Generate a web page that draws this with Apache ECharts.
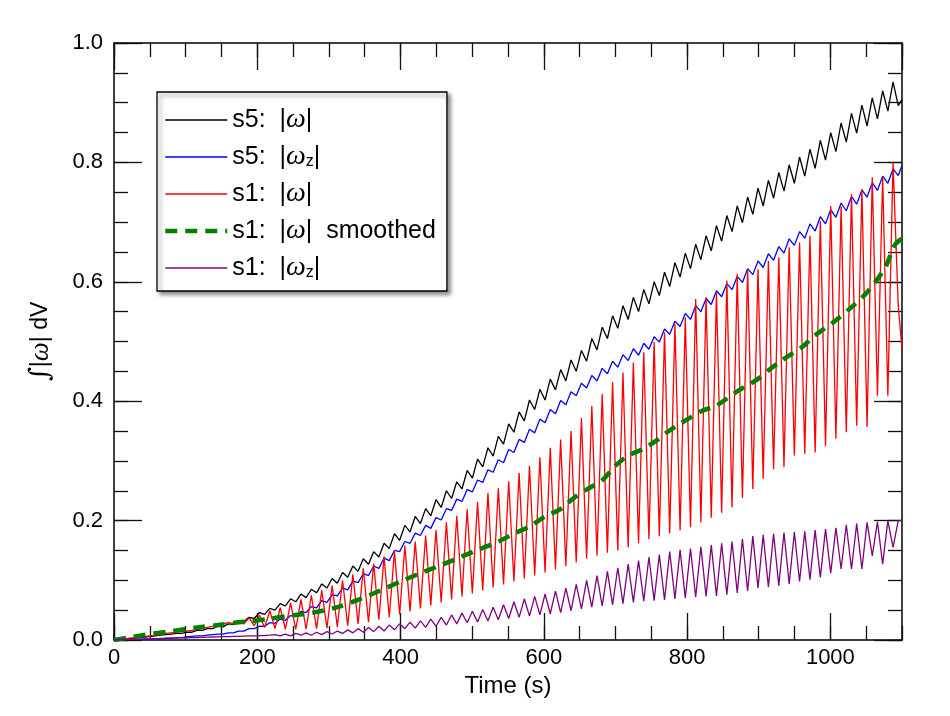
<!DOCTYPE html>
<html lang="en">
<head>
  <meta charset="UTF-8">
  <title>vorticity integral</title>
  <style>
    html, body { margin: 0; padding: 0; background: #fff; }
    #main { width: 950px; height: 716px; }
  </style>
</head>
<body>
<div id="main"></div>
<script src="https://cdn.jsdelivr.net/npm/echarts@6/dist/echarts.min.js"></script>
<script>
  // sample times of the wave crests and dips (s)
  const tPeak = [
    0, 14.5, 29, 43.5, 58, 72.5, 87, 101.5, 116, 130.5,
    145, 159.5, 174, 188.5, 203, 217.5, 232, 246.5, 261, 275.5,
    290, 304.5, 319, 333.5, 348, 362.5, 377, 391.5, 406, 420.5,
    435, 449.5, 464, 478.5, 493, 507.5, 522, 536.5, 551, 565.5,
    580, 594.5, 609, 623.5, 638, 652.5, 667, 681.5, 696, 710.5,
    725, 739.5, 754, 768.5, 783, 797.5, 812, 826.5, 841, 855.5,
    870, 884.5, 899, 913.5, 928, 942.5, 957, 971.5, 986, 1000.5,
    1015, 1029.5, 1044, 1058.5, 1073, 1087.5];
  const tTrough = [
    7.25, 21.75, 36.25, 50.75, 65.25, 79.75, 94.25, 108.75, 123.25, 137.75,
    152.25, 166.75, 181.25, 195.75, 210.25, 224.75, 239.25, 253.75, 268.25, 282.75,
    297.25, 311.75, 326.25, 340.75, 355.25, 369.75, 384.25, 398.75, 413.25, 427.75,
    442.25, 456.75, 471.25, 485.75, 500.25, 514.75, 529.25, 543.75, 558.25, 572.75,
    587.25, 601.75, 616.25, 630.75, 645.25, 659.75, 674.25, 688.75, 703.25, 717.75,
    732.25, 746.75, 761.25, 775.75, 790.25, 804.75, 819.25, 833.75, 848.25, 862.75,
    877.25, 891.75, 906.25, 920.75, 935.25, 949.75, 964.25, 978.75, 993.25, 1007.75,
    1022.25, 1036.75, 1051.25, 1065.75, 1080.25, 1094.75];
  const tEnd = 1100;

  // s5: |w|
  const s5wPeak = [
    0, 0.001, 0.003, 0.005, 0.007, 0.009, 0.011, 0.013, 0.016, 0.019,
    0.023, 0.027, 0.032, 0.038, 0.046, 0.053, 0.061, 0.069, 0.077, 0.085,
    0.094, 0.103, 0.113, 0.124, 0.136, 0.148, 0.162, 0.178, 0.192, 0.207,
    0.220, 0.235, 0.250, 0.265, 0.284, 0.303, 0.322, 0.341, 0.362, 0.382,
    0.402, 0.420, 0.437, 0.453, 0.469, 0.485, 0.505, 0.524, 0.543, 0.560,
    0.574, 0.587, 0.600, 0.616, 0.632, 0.648, 0.663, 0.677, 0.694, 0.711,
    0.727, 0.742, 0.757, 0.770, 0.783, 0.796, 0.809, 0.822, 0.837, 0.850,
    0.866, 0.882, 0.896, 0.908, 0.920, 0.935];
  const s5wTrough = [
    0.000, 0.002, 0.004, 0.006, 0.008, 0.010, 0.011, 0.013, 0.016, 0.019,
    0.022, 0.026, 0.031, 0.036, 0.043, 0.050, 0.057, 0.064, 0.071, 0.079,
    0.087, 0.095, 0.105, 0.115, 0.127, 0.139, 0.153, 0.167, 0.181, 0.195,
    0.208, 0.222, 0.237, 0.253, 0.271, 0.290, 0.308, 0.328, 0.348, 0.367,
    0.386, 0.402, 0.419, 0.434, 0.450, 0.467, 0.486, 0.505, 0.522, 0.537,
    0.550, 0.563, 0.577, 0.592, 0.608, 0.622, 0.637, 0.652, 0.668, 0.684,
    0.699, 0.713, 0.727, 0.740, 0.752, 0.765, 0.777, 0.790, 0.804, 0.818,
    0.834, 0.849, 0.861, 0.873, 0.886, 0.895];
  const s5wEnd = 0.905;

  // s5: |w_z|
  const s5wzPeak = [
    0, 0.0005, 0.001, 0.0015, 0.002, 0.003, 0.004, 0.005, 0.007, 0.008,
    0.010, 0.012, 0.015, 0.019, 0.023, 0.029, 0.035, 0.041, 0.048, 0.056,
    0.066, 0.076, 0.087, 0.099, 0.111, 0.124, 0.137, 0.150, 0.165, 0.179,
    0.192, 0.205, 0.220, 0.236, 0.252, 0.268, 0.285, 0.302, 0.319, 0.336,
    0.353, 0.370, 0.386, 0.401, 0.416, 0.430, 0.443, 0.455, 0.467, 0.478,
    0.488, 0.497, 0.508, 0.521, 0.534, 0.547, 0.560, 0.572, 0.585, 0.597,
    0.609, 0.622, 0.635, 0.647, 0.659, 0.672, 0.684, 0.697, 0.709, 0.721,
    0.732, 0.743, 0.754, 0.766, 0.777, 0.789];
  const s5wzTrough = [
    0.000, 0.001, 0.001, 0.002, 0.002, 0.003, 0.004, 0.006, 0.007, 0.009,
    0.010, 0.012, 0.015, 0.019, 0.023, 0.028, 0.033, 0.039, 0.046, 0.054,
    0.063, 0.074, 0.084, 0.096, 0.108, 0.120, 0.133, 0.148, 0.162, 0.175,
    0.187, 0.201, 0.217, 0.232, 0.248, 0.264, 0.281, 0.297, 0.314, 0.331,
    0.347, 0.364, 0.379, 0.394, 0.409, 0.422, 0.434, 0.446, 0.457, 0.468,
    0.477, 0.487, 0.499, 0.512, 0.525, 0.537, 0.550, 0.562, 0.575, 0.587,
    0.599, 0.612, 0.624, 0.636, 0.648, 0.661, 0.673, 0.685, 0.697, 0.708,
    0.719, 0.730, 0.742, 0.753, 0.765, 0.778];
  const s5wzEnd = 0.795;

  // s1: |w|
  const s1wPeak = [
    0, 0.002, 0.004, 0.006, 0.008, 0.011, 0.013, 0.015, 0.018, 0.021,
    0.025, 0.029, 0.033, 0.037, 0.042, 0.049, 0.054, 0.062, 0.068, 0.075,
    0.083, 0.091, 0.100, 0.110, 0.120, 0.128, 0.140, 0.148, 0.158, 0.165,
    0.175, 0.184, 0.197, 0.208, 0.219, 0.231, 0.246, 0.254, 0.266, 0.280,
    0.292, 0.306, 0.322, 0.336, 0.350, 0.372, 0.392, 0.412, 0.432, 0.448,
    0.465, 0.482, 0.499, 0.515, 0.529, 0.540, 0.571, 0.574, 0.582, 0.602,
    0.613, 0.621, 0.621, 0.635, 0.641, 0.658, 0.666, 0.677, 0.702, 0.727,
    0.727, 0.747, 0.755, 0.775, 0.775, 0.800];
  const s1wTrough = [
    0.001, 0.003, 0.005, 0.007, 0.009, 0.012, 0.014, 0.016, 0.019, 0.023,
    0.027, 0.028, 0.027, 0.024, 0.021, 0.019, 0.018, 0.018, 0.018, 0.019,
    0.020, 0.022, 0.024, 0.027, 0.030, 0.034, 0.038, 0.043, 0.048, 0.053,
    0.058, 0.063, 0.068, 0.073, 0.078, 0.083, 0.088, 0.093, 0.098, 0.103,
    0.108, 0.113, 0.118, 0.124, 0.130, 0.136, 0.141, 0.146, 0.150, 0.155,
    0.162, 0.169, 0.174, 0.179, 0.184, 0.189, 0.197, 0.205, 0.213, 0.222,
    0.238, 0.253, 0.270, 0.286, 0.290, 0.309, 0.312, 0.314, 0.325, 0.337,
    0.348, 0.359, 0.357, 0.409, 0.409, 0.560];
  const s1wEnd = 0.487;

  // s1: |w_z|  (its crests fall near the dips of s1: |w|)
  const s1wzLow = [
    0, 0.0008, 0.0012, 0.0018, 0.0022, 0.0028, 0.0032, 0.0038, 0.0042, 0.0048,
    0.0052, 0.0058, 0.0062, 0.0068, 0.0072, 0.008, 0.007, 0.007, 0.008, 0.008,
    0.009, 0.010, 0.011, 0.012, 0.013, 0.014, 0.015, 0.017, 0.019, 0.020,
    0.021, 0.023, 0.025, 0.027, 0.029, 0.030, 0.032, 0.034, 0.036, 0.038,
    0.040, 0.042, 0.044, 0.046, 0.049, 0.052, 0.055, 0.057, 0.059, 0.061,
    0.063, 0.065, 0.066, 0.067, 0.069, 0.070, 0.072, 0.073, 0.074, 0.076,
    0.079, 0.082, 0.087, 0.089, 0.091, 0.094, 0.098, 0.101, 0.105, 0.112,
    0.119, 0.119, 0.119, 0.141, 0.127, 0.155];
  const s1wzHigh = [
    0.0005, 0.001, 0.0015, 0.002, 0.0025, 0.003, 0.0035, 0.004, 0.0045, 0.005,
    0.0055, 0.006, 0.0065, 0.007, 0.0075, 0.009, 0.010, 0.011, 0.012, 0.013,
    0.014, 0.015, 0.017, 0.019, 0.021, 0.023, 0.025, 0.027, 0.030, 0.032,
    0.035, 0.038, 0.042, 0.045, 0.048, 0.051, 0.055, 0.059, 0.064, 0.069,
    0.073, 0.077, 0.082, 0.087, 0.093, 0.100, 0.108, 0.115, 0.121, 0.127,
    0.133, 0.139, 0.143, 0.148, 0.151, 0.153, 0.156, 0.159, 0.162, 0.165,
    0.169, 0.174, 0.176, 0.178, 0.180, 0.181, 0.182, 0.184, 0.186, 0.188,
    0.193, 0.195, 0.197, 0.198, 0.200, 0.200];
  const s1wzEnd = 0.200;

  // s1: |w| smoothed
  const smoothT = [0, 20, 42, 75, 117, 145, 177, 214, 247, 279,
    312, 344, 372, 400, 430, 458, 484, 510, 535, 558,
    580, 602, 623, 643, 664, 682, 700, 718, 737, 756,
    772, 790, 805, 821, 840, 855, 872, 888, 902, 916,
    932, 948, 962, 976, 1004, 1032, 1051, 1069, 1078, 1090, 1100];
  const smoothV = [0, 0.004, 0.0085, 0.014, 0.021, 0.025, 0.030, 0.035, 0.041, 0.046,
    0.055, 0.069, 0.083, 0.098, 0.113, 0.126, 0.139, 0.152, 0.164, 0.178,
    0.190, 0.207, 0.219, 0.239, 0.255, 0.268, 0.292, 0.309, 0.319, 0.333,
    0.348, 0.362, 0.373, 0.384, 0.392, 0.404, 0.418, 0.429, 0.440, 0.454,
    0.468, 0.481, 0.492, 0.508, 0.532, 0.560, 0.582, 0.610, 0.627, 0.662, 0.672];

  const xTicks = [0, 200, 400, 600, 800, 1000];
  const yTicks = ['0.0', '0.2', '0.4', '0.6', '0.8', '1.0'];

  const FONT = 'Liberation Sans';

  // crest / dip / crest ... then the last sample
  function wave(first, second, last) {
    let out = [];
    for (let i = 0; i < tPeak.length; i++) {
      out.push([tPeak[i], first[i]]);
      out.push([tTrough[i], second[i]]);
    }
    out.push([tEnd, last]);
    return out;
  }

  function xAx(pos, major, show) {
    return {
      type: 'value', position: pos, min: 0, max: 1100,
      interval: major ? 200 : 50,
      axisLine: {show: show, onZero: false, lineStyle: {color: '#000', width: 1.5}},
      axisTick: {show: true, inside: true, length: major ? 27 : 14, lineStyle: {color: '#111', width: 1.3}},
      axisLabel: {
        show: major && pos === 'bottom', showMaxLabel: false, margin: 7,
        color: '#000', fontSize: 22, fontFamily: FONT,
        formatter: v => xTicks.indexOf(v) >= 0 ? String(v) : ''
      },
      splitLine: {show: false},
      name: (major && pos === 'bottom') ? 'Time (s)' : '',
      nameLocation: 'middle', nameGap: 29,
      nameTextStyle: {color: '#000', fontSize: 24, fontFamily: FONT}
    };
  }

  function yAx(pos, major, show) {
    return {
      type: 'value', position: pos, min: 0, max: 1,
      interval: major ? 0.2 : 0.05,
      axisLine: {show: show, onZero: false, lineStyle: {color: '#000', width: 1.5}},
      axisTick: {show: true, inside: true, length: major ? 28 : 14, lineStyle: {color: '#111', width: 1.3}},
      axisLabel: {
        show: major && pos === 'left', margin: 11,
        color: '#000', fontSize: 22, fontFamily: FONT,
        formatter: v => yTicks[Math.round(v / 0.2)]
      },
      splitLine: {show: false},
      name: (major && pos === 'left') ? '{i|∫}|{w|ω}| dV' : '',
      nameLocation: 'middle', nameGap: 60, nameRotate: 90,
      nameTextStyle: {
        color: '#000', fontSize: 23, fontFamily: FONT,
        rich: {
          i: {fontSize: 27, fontFamily: 'DejaVu Serif', fontStyle: 'italic', color: '#000'},
          w: {fontSize: 27, fontFamily: 'Liberation Serif', fontStyle: 'italic', color: '#000'}
        }
      }
    };
  }

  const legendText = {
    's5: |ω|': 's5:  |{w|ω}|',
    's5: |ωz|': 's5:  |{w|ω}{z|z}|',
    's1: |ω|': 's1:  |{w|ω}|',
    's1: |ω| smoothed': 's1:  |{w|ω}|  smoothed',
    's1: |ωz|': 's1:  |{w|ω}{z|z}|'
  };

  let chart = echarts.init(document.getElementById('main'), null, {renderer: 'canvas'});

  let option = {
    animation: false,
    backgroundColor: '#fff',
    grid: {left: 114, right: 48, top: 43, bottom: 76, containLabel: false},
    xAxis: [xAx('bottom', true, true), xAx('bottom', false, false), xAx('top', true, true), xAx('top', false, false)],
    yAxis: [yAx('left', true, true), yAx('left', false, false), yAx('right', true, true), yAx('right', false, false)],
    legend: {
      orient: 'vertical', left: 157, top: 92,
      padding: [14, 11, 9, 6],
      itemWidth: 62, itemHeight: 24, itemGap: 9,
      backgroundColor: '#fff',
      borderColor: '#000', borderWidth: 1.3,
      shadowColor: 'rgba(0,0,0,0.45)', shadowBlur: 4, shadowOffsetX: 3, shadowOffsetY: 3,
      selectedMode: false,
      itemStyle: {opacity: 0},
      lineStyle: {width: 'inherit'},
      formatter: name => legendText[name],
      textStyle: {
        color: '#000', fontSize: 25, fontFamily: FONT, lineHeight: 24,
        rich: {
          w: {fontSize: 28, fontFamily: 'Liberation Serif', fontStyle: 'italic', color: '#000', lineHeight: 24},
          z: {fontSize: 16, fontFamily: FONT, color: '#000', lineHeight: 24, padding: [10, 0, 0, 0]}
        }
      },
      data: ['s5: |ω|', 's5: |ωz|', 's1: |ω|', 's1: |ω| smoothed', 's1: |ωz|']
    },
    series: [
      {name: 's5: |ω|', type: 'line', symbol: 'none', data: wave(s5wPeak, s5wTrough, s5wEnd),
        lineStyle: {color: '#000000', width: 1.3}, itemStyle: {color: '#000000'}},
      {name: 's5: |ωz|', type: 'line', symbol: 'none', data: wave(s5wzPeak, s5wzTrough, s5wzEnd),
        lineStyle: {color: '#0000ff', width: 1.3}, itemStyle: {color: '#0000ff'}},
      {name: 's1: |ω|', type: 'line', symbol: 'none', data: wave(s1wPeak, s1wTrough, s1wEnd),
        lineStyle: {color: '#ff0000', width: 1.3}, itemStyle: {color: '#ff0000'}},
      {name: 's1: |ω| smoothed', type: 'line', symbol: 'none', smooth: 0.3,
        data: smoothT.map((t, i) => [t, smoothV[i]]),
        lineStyle: {color: '#008000', width: 4.5, type: [12, 8]}, itemStyle: {color: '#008000'}},
      {name: 's1: |ωz|', type: 'line', symbol: 'none', data: wave(s1wzLow, s1wzHigh, s1wzEnd),
        lineStyle: {color: '#800080', width: 1.3}, itemStyle: {color: '#800080'}}
    ]
  };
  chart.setOption(option);
</script>
</body>
</html>
